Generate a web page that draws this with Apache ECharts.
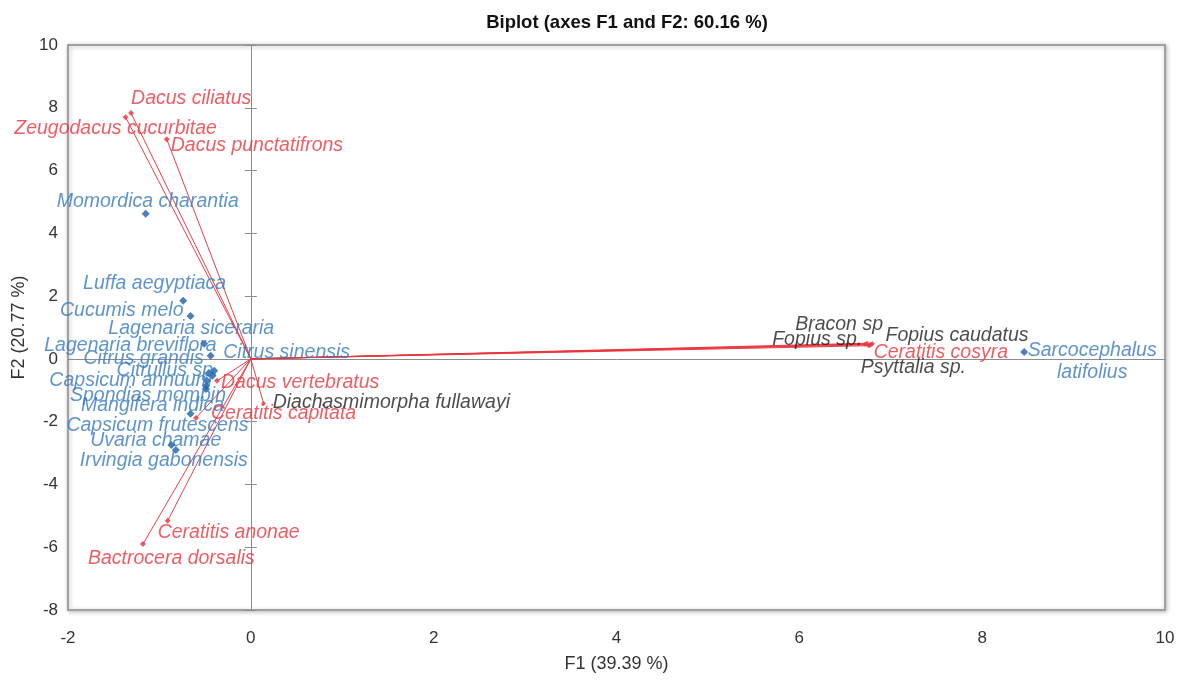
<!DOCTYPE html>
<html><head><meta charset="utf-8">
<script src="https://cdn.jsdelivr.net/npm/echarts@6/dist/echarts.min.js"></script>
<style>html,body{margin:0;padding:0;background:#fff}#c{width:1182px;height:680px}</style>
</head><body><div id="c"></div>
<script>
const chartTitle = 'Biplot (axes F1 and F2: 60.16 %)';
const xAxisName = 'F1 (39.39 %)';
const yAxisName = 'F2 (20.77 %)';
const xRange = [-2, 10];
const yRange = [-8, 10];
const tickStep = 2;

// Observations (host plants) – blue points
const obsNames = ['Momordica charantia','Luffa aegyptiaca','Cucumis melo','Lagenaria siceraria','Lagenaria breviflora','Citrus grandis','Citrus sinensis','Citrullus sp.','Capsicum annuum','Spondias mombin','Mangifera indica','Capsicum frutescens','Uvaria chamae','Irvingia gabonensis','Sarcocephalus latifolius'];
const obsF1 = [-1.15,-0.74,-0.66,-0.51,-0.44,-0.46,-0.40,-0.42,-0.48,-0.49,-0.49,-0.66,-0.87,-0.82,8.46];
const obsF2 = [4.62,1.85,1.37,0.48,0.10,-0.45,-0.38,-0.54,-0.70,-0.86,-0.96,-1.75,-2.74,-2.90,0.22];

// Fruit-fly variables – red vectors
const flyNames = ['Dacus ciliatus','Zeugodacus cucurbitae','Dacus punctatifrons','Dacus vertebratus','Ceratitis capitata','Ceratitis anonae','Bactrocera dorsalis','Ceratitis cosyra'];
const flyF1 = [-1.31,-1.37,-0.92,-0.37,-0.60,-0.91,-1.18,6.78];
const flyF2 = [7.83,7.70,7.00,-0.70,-1.88,-5.16,-5.90,0.45];

// Parasitoid variables – black labels
const paraNames = ['Bracon sp','Fopius sp.','Fopius caudatus','Psyttalia sp.','Diachasmimorpha fullawayi'];
const paraF1 = [6.74,6.72,6.80,6.76,0.14];
const paraF2 = [0.50,0.47,0.48,0.42,-1.42];

// Label placement (styling only): [align, dx, dy]
const labelPlace = {
  'Momordica charantia':['center',2,-12],
  'Luffa aegyptiaca':['right',43,-17],
  'Cucumis melo':['right',-7,-5],
  'Lagenaria siceraria':['right',70,-15],
  'Lagenaria breviflora':['right',6,-10],
  'Citrus grandis':['right',-5,-14],
  'Citrus sinensis':['left',9,-18],
  'Citrullus sp.':['right',6,-5],
  'Capsicum annuum':['right',5,0],
  'Spondias mombin':['right',20,10],
  'Mangifera indica':['right',18,17],
  'Capsicum frutescens':['right',58,12],
  'Uvaria chamae':['right',50,-4],
  'Irvingia gabonensis':['right',72,11],
  'Sarcocephalus latifolius':['center',68,10],
  'Dacus ciliatus':['left',0,-15],
  'Zeugodacus cucurbitae':['center',-10,11],
  'Dacus punctatifrons':['left',4,6],
  'Dacus vertebratus':['left',4,2],
  'Ceratitis capitata':['left',15,-4],
  'Ceratitis anonae':['left',-10,12],
  'Bactrocera dorsalis':['left',-55,14],
  'Ceratitis cosyra':['left',3,8],
  'Bracon sp':['right',16,-19],
  'Fopius sp.':['right',-3,-5],
  'Fopius caudatus':['left',13,-8],
  'Psyttalia sp.':['left',-8,22],
  'Diachasmimorpha fullawayi':['left',9,-1]
};
const wrapNames = {'Sarcocephalus latifolius': true};

const RED = '#e8353d', BLUE = '#3479c0', BLUEPT = '#1f5fa6', BLACK = '#1e1e1e';
const FONT = 'Liberation Sans';

function pointItems(names, xs, ys, color) {
  return names.map((n, i) => {
    const p = labelPlace[n] || ['left', 6, 0];
    return {
      name: n,
      value: [xs[i], ys[i]],
      label: {
        show: true, position: 'inside', align: p[0], verticalAlign: 'middle',
        offset: [p[1], p[2]], color: color, fontFamily: FONT, fontStyle: 'italic', fontSize: 19.5,
        lineHeight: 22, formatter: (q) => wrapNames[q.name] ? q.name.replace(' ', '\n') : q.name
      }
    };
  });
}
function vectorItems(names, xs, ys) {
  return names.map((n, i) => ({ coords: [[0, 0], [xs[i], ys[i]]] }));
}

const chart = echarts.init(document.getElementById('c'), null, { renderer: 'canvas' });
chart.setOption({
  animation: false,
  backgroundColor: '#fff',
  title: { text: chartTitle, left: 622, top: 8, textAlign: 'center',
    textStyle: { fontFamily: FONT, fontWeight: 'bold', fontSize: 18.5, color: '#111' } },
  grid: { left: 68, right: 17, top: 45, bottom: 70, show: true, borderColor: '#a0a0a0', borderWidth: 2,
    backgroundColor: '#fff', shadowColor: 'rgba(0,0,0,0.25)', shadowBlur: 4, shadowOffsetX: 1, shadowOffsetY: 1 },
  xAxis: [
    { type: 'value', min: xRange[0], max: xRange[1], interval: tickStep, position: 'bottom',
      axisLine: { show: false, onZero: false }, axisTick: { show: false }, splitLine: { show: false },
      axisLabel: { fontFamily: FONT, fontSize: 17, color: '#333', margin: 20 },
      name: xAxisName, nameLocation: 'middle', nameGap: 45,
      nameTextStyle: { fontFamily: FONT, fontSize: 18, color: '#333' } },
    { type: 'value', min: xRange[0], max: xRange[1], interval: tickStep, position: 'bottom',
      axisLine: { show: true, onZero: true, lineStyle: { color: '#8c8c8c', width: 1 } },
      axisTick: { show: false },
      axisLabel: { show: false }, splitLine: { show: false } }
  ],
  yAxis: [
    { type: 'value', min: yRange[0], max: yRange[1], interval: tickStep, position: 'left',
      axisLine: { show: false, onZero: false }, axisTick: { show: false }, splitLine: { show: false },
      axisLabel: { fontFamily: FONT, fontSize: 17, color: '#333', margin: 10 },
      name: yAxisName, nameLocation: 'middle', nameGap: 40, nameRotate: 90,
      nameTextStyle: { fontFamily: FONT, fontSize: 18, color: '#333' } },
    { type: 'value', min: yRange[0], max: yRange[1], interval: tickStep, position: 'left',
      axisLine: { show: true, onZero: true, lineStyle: { color: '#8c8c8c', width: 1 } },
      axisTick: { show: true, inside: false, length: 6, lineStyle: { color: '#8c8c8c' } },
      axisLabel: { show: false }, splitLine: { show: false } },
    { type: 'value', min: yRange[0], max: yRange[1], interval: tickStep, position: 'left',
      axisLine: { show: false, onZero: true },
      axisTick: { show: true, inside: true, length: 6, lineStyle: { color: '#8c8c8c' } },
      axisLabel: { show: false }, splitLine: { show: false } }
  ],
  series: [
    { type: 'lines', coordinateSystem: 'cartesian2d', xAxisIndex: 0, yAxisIndex: 0, silent: true,
      lineStyle: { color: RED, width: 1, opacity: 0.95 }, symbol: ['none', 'none'],
      data: vectorItems(flyNames, flyF1, flyF2).concat(vectorItems(paraNames, paraF1, paraF2)), z: 3 },
    { type: 'scatter', xAxisIndex: 0, yAxisIndex: 0, symbol: 'diamond', symbolSize: 8,
      itemStyle: { color: BLUEPT }, data: pointItems(obsNames, obsF1, obsF2, BLUE), z: 4 },
    { type: 'scatter', xAxisIndex: 0, yAxisIndex: 0, symbol: 'diamond', symbolSize: 6,
      itemStyle: { color: RED }, data: pointItems(flyNames, flyF1, flyF2, RED), z: 5 },
    { type: 'scatter', xAxisIndex: 0, yAxisIndex: 0, symbol: 'diamond', symbolSize: 5,
      itemStyle: { color: RED }, data: pointItems(paraNames, paraF1, paraF2, BLACK), z: 5 }
  ]
});
</script>
</body></html>
